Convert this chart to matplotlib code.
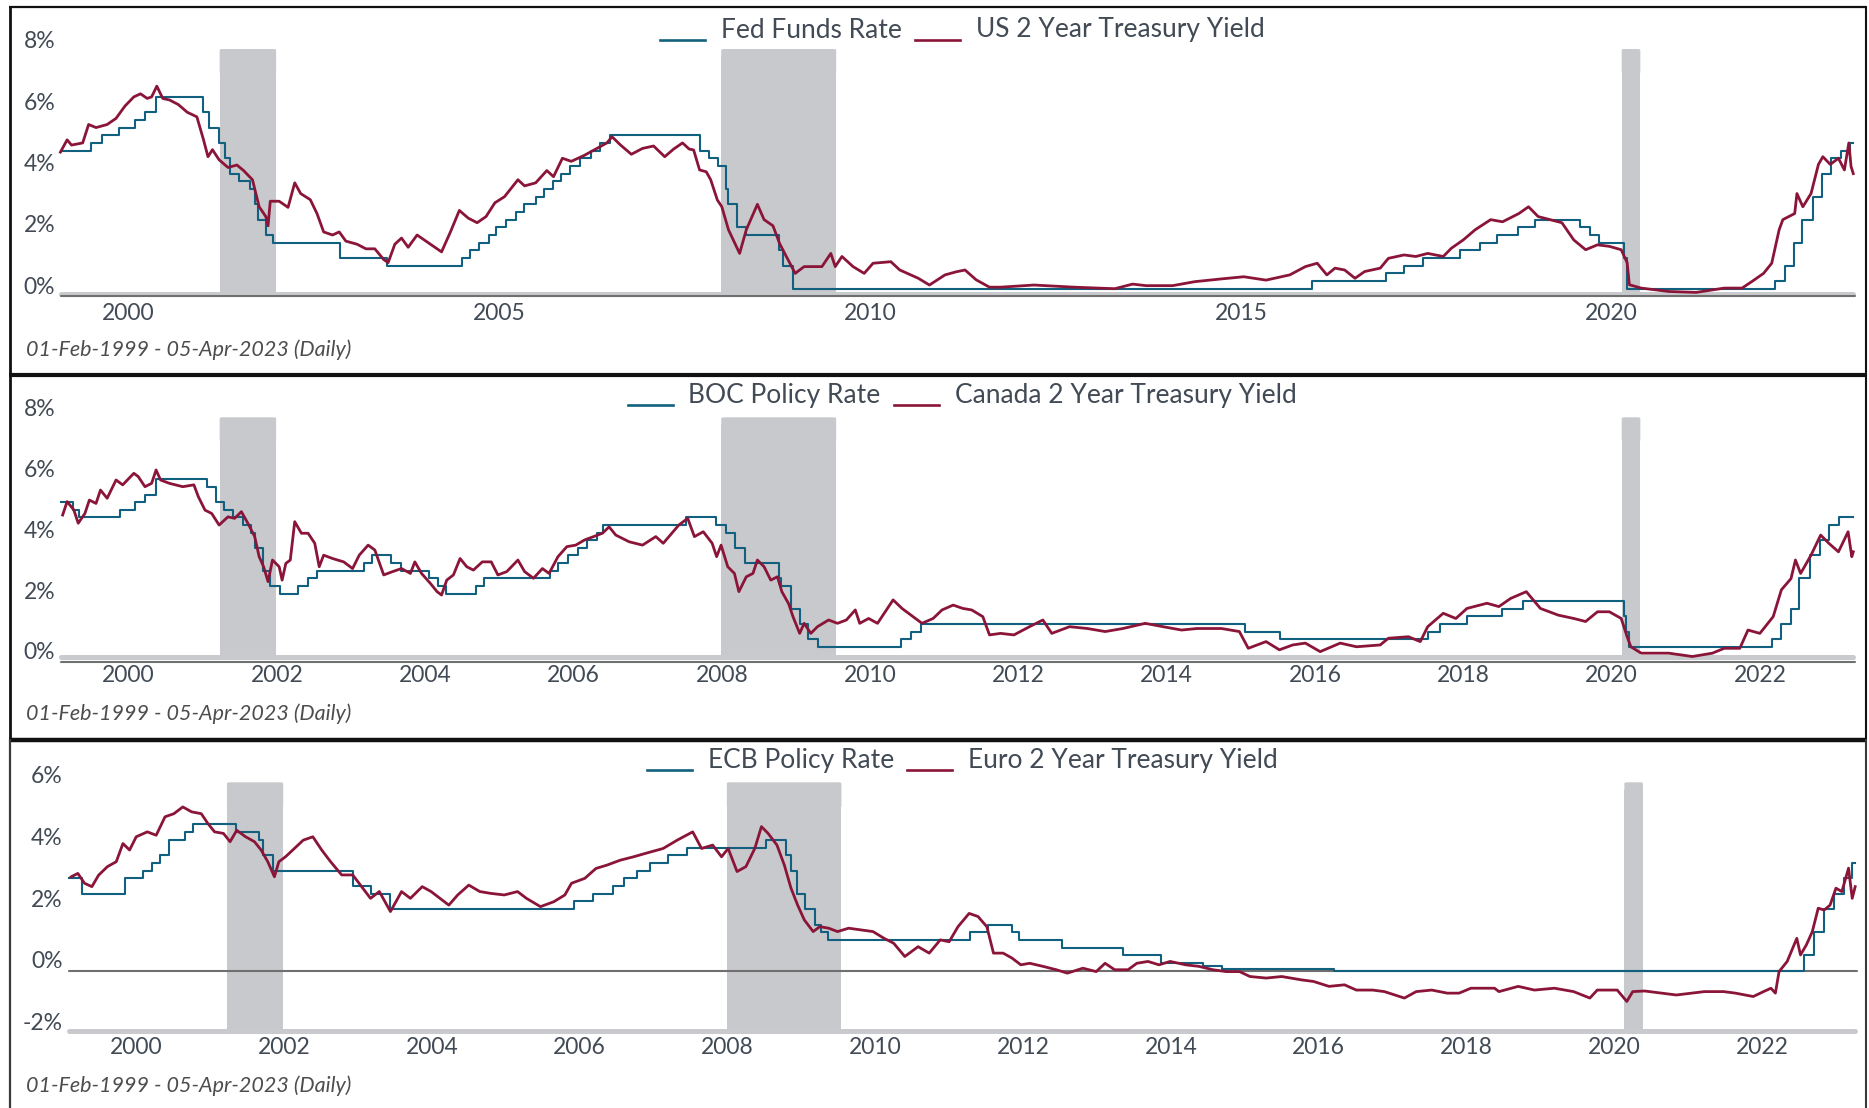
import matplotlib
matplotlib.use("Agg")
import matplotlib.pyplot as plt
from matplotlib.lines import Line2D
from matplotlib.patches import FancyBboxPatch
from matplotlib.transforms import ScaledTranslation, blended_transform_factory
from datetime import date

W, H, DPI = 1869, 1108, 100

FONT = "Lato"
TEXT = "#414a55"
CAPTION = "#4d4d4d"
BLUE = "#12607f"
RED = "#8a1538"
REC = "#c8c9cc"
AXBAR = "#c9cacd"
ZERO = "#6f6f6f"

START, END = "1999-02-01", "2023-04-05"
CAPTION_TEXT = "01-Feb-1999 - 05-Apr-2023 (Daily)"

recessions = [("2001-03-25", "2001-12-28"),
              ("2007-12-29", "2009-07-18"),
              ("2020-02-20", "2020-05-22")]

# ---------------- policy rates (change dates and new levels) ----------------
fed_dates = ["1999-02-01", "1999-06-30", "1999-08-24", "1999-11-16", "2000-02-02",
             "2000-03-21", "2000-05-16", "2001-01-03", "2001-01-31", "2001-03-20",
             "2001-04-18", "2001-05-15", "2001-06-27", "2001-08-21", "2001-09-17",
             "2001-10-02", "2001-11-06", "2001-12-11", "2002-11-06", "2003-06-25",
             "2004-06-30", "2004-08-10", "2004-09-21", "2004-11-10", "2004-12-14",
             "2005-02-02", "2005-03-22", "2005-05-03", "2005-06-30", "2005-08-09",
             "2005-09-20", "2005-11-01", "2005-12-13", "2006-01-31", "2006-03-28",
             "2006-05-10", "2006-06-29", "2007-09-18", "2007-10-31", "2007-12-11",
             "2008-01-22", "2008-01-30", "2008-03-18", "2008-04-30", "2008-10-08",
             "2008-10-29", "2008-12-16", "2015-12-17", "2016-12-15", "2017-03-16",
             "2017-06-15", "2017-12-14", "2018-03-22", "2018-06-14", "2018-09-27",
             "2018-12-20", "2019-08-01", "2019-09-19", "2019-10-31", "2020-03-04",
             "2020-03-16", "2022-03-17", "2022-05-05", "2022-06-16", "2022-07-28",
             "2022-09-22", "2022-11-03", "2022-12-15", "2023-02-02", "2023-03-23"]
fed_rates = [4.75, 5.00, 5.25, 5.50, 5.75, 6.00, 6.50, 6.00, 5.50, 5.00,
             4.50, 4.00, 3.75, 3.50, 3.00, 2.50, 2.00, 1.75, 1.25, 1.00,
             1.25, 1.50, 1.75, 2.00, 2.25, 2.50, 2.75, 3.00, 3.25, 3.50,
             3.75, 4.00, 4.25, 4.50, 4.75, 5.00, 5.25, 4.75, 4.50, 4.25,
             3.50, 3.00, 2.25, 2.00, 1.50, 1.00, 0.25, 0.50, 0.75, 1.00,
             1.25, 1.50, 1.75, 2.00, 2.25, 2.50, 2.25, 2.00, 1.75, 1.25,
             0.25, 0.50, 1.00, 1.75, 2.50, 3.25, 4.00, 4.50, 4.75, 5.00]

boc_dates = ["1999-02-01", "1999-03-31", "1999-05-04", "1999-11-17", "2000-02-03",
             "2000-03-22", "2000-05-17", "2001-01-23", "2001-03-06", "2001-04-17",
             "2001-05-29", "2001-07-17", "2001-08-28", "2001-09-17", "2001-10-23",
             "2001-11-27", "2002-01-15", "2002-04-16", "2002-06-04", "2002-07-16",
             "2003-03-04", "2003-04-15", "2003-07-15", "2003-09-03", "2004-01-20",
             "2004-03-02", "2004-04-13", "2004-09-08", "2004-10-19", "2005-09-07",
             "2005-10-18", "2005-12-06", "2006-01-24", "2006-03-07", "2006-04-25",
             "2006-05-24", "2007-07-10", "2007-12-04", "2008-01-22", "2008-03-04",
             "2008-04-22", "2008-10-08", "2008-10-21", "2008-12-09", "2009-01-20",
             "2009-03-03", "2009-04-21", "2010-06-01", "2010-07-20", "2010-09-08",
             "2015-01-21", "2015-07-15", "2017-07-12", "2017-09-06", "2018-01-17",
             "2018-07-11", "2018-10-24", "2020-03-04", "2020-03-13", "2020-03-27",
             "2022-03-02", "2022-04-13", "2022-06-01", "2022-07-13", "2022-09-07",
             "2022-10-26", "2022-12-07", "2023-01-25"]
boc_rates = [5.25, 5.00, 4.75, 5.00, 5.25, 5.50, 6.00, 5.75, 5.25, 5.00,
             4.75, 4.50, 4.25, 3.75, 3.00, 2.50, 2.25, 2.50, 2.75, 3.00,
             3.25, 3.50, 3.25, 3.00, 2.75, 2.50, 2.25, 2.50, 2.75, 3.00,
             3.25, 3.50, 3.75, 4.00, 4.25, 4.50, 4.75, 4.50, 4.25, 3.75,
             3.25, 2.75, 2.50, 1.75, 1.25, 0.75, 0.50, 0.75, 1.00, 1.25,
             1.00, 0.75, 1.00, 1.25, 1.50, 1.75, 2.00, 1.50, 1.00, 0.50,
             0.75, 1.25, 1.75, 2.75, 3.50, 4.00, 4.50, 4.75]

ecb_dates = ["1999-02-01", "1999-04-09", "1999-11-05", "2000-02-04", "2000-03-17",
             "2000-04-28", "2000-06-09", "2000-09-01", "2000-10-06", "2001-05-11",
             "2001-08-31", "2001-09-18", "2001-11-09", "2002-12-06", "2003-03-07",
             "2003-06-06", "2005-12-06", "2006-03-08", "2006-06-15", "2006-08-09",
             "2006-10-11", "2006-12-13", "2007-03-14", "2007-06-13", "2008-07-09",
             "2008-10-15", "2008-11-12", "2008-12-10", "2009-01-21", "2009-03-11",
             "2009-04-08", "2009-05-13", "2011-04-13", "2011-07-13", "2011-11-09",
             "2011-12-14", "2012-07-11", "2013-05-08", "2013-11-13", "2014-06-11",
             "2014-09-10", "2016-03-16", "2022-07-27", "2022-09-14", "2022-11-02",
             "2022-12-21", "2023-02-08", "2023-03-22"]
ecb_rates = [3.00, 2.50, 3.00, 3.25, 3.50, 3.75, 4.25, 4.50, 4.75, 4.50,
             4.25, 3.75, 3.25, 2.75, 2.50, 2.00, 2.25, 2.50, 2.75, 3.00,
             3.25, 3.50, 3.75, 4.00, 4.25, 3.75, 3.25, 2.50, 2.00, 1.50,
             1.25, 1.00, 1.25, 1.50, 1.25, 1.00, 0.75, 0.50, 0.25, 0.15,
             0.05, 0.00, 0.50, 1.25, 2.00, 2.50, 3.00, 3.50]

# ---------------- 2-year yields (decimal year, %) ----------------
us2y_t = [1999.08, 1999.17, 1999.23, 1999.38, 1999.46, 1999.56, 1999.71, 1999.83, 1999.95,
          2000.07, 2000.16, 2000.25, 2000.31, 2000.38, 2000.46, 2000.55, 2000.67, 2000.79, 2000.92,
          2001.01, 2001.07, 2001.13, 2001.22, 2001.34, 2001.46, 2001.55, 2001.67, 2001.76, 2001.85,
          2001.88, 2001.91, 2002.03, 2002.15, 2002.24, 2002.32, 2002.45, 2002.54, 2002.63, 2002.75,
          2002.84, 2002.93, 2003.08, 2003.20, 2003.32, 2003.44, 2003.50, 2003.59, 2003.68, 2003.77,
          2003.89, 2003.98, 2004.07, 2004.22, 2004.34, 2004.46, 2004.58, 2004.70, 2004.82, 2004.94,
          2005.07, 2005.25, 2005.34, 2005.49, 2005.64, 2005.73, 2005.85, 2005.97, 2006.15, 2006.30,
          2006.45, 2006.52, 2006.63, 2006.78, 2006.93, 2007.08, 2007.23, 2007.35, 2007.47, 2007.56,
          2007.62, 2007.70, 2007.79, 2007.85, 2007.94, 2008.00, 2008.09, 2008.24, 2008.33, 2008.48,
          2008.57, 2008.69, 2008.78, 2008.87, 2008.99, 2009.11, 2009.23, 2009.35, 2009.47, 2009.53,
          2009.62, 2009.77, 2009.92, 2010.04, 2010.28, 2010.40, 2010.65, 2010.80, 2011.01, 2011.16,
          2011.28, 2011.43, 2011.61, 2011.76, 2012.21, 2012.75, 2013.30, 2013.54, 2013.72, 2014.08,
          2014.38, 2014.74, 2015.04, 2015.34, 2015.66, 2015.87, 2016.03, 2016.16, 2016.27, 2016.40,
          2016.54, 2016.67, 2016.88, 2016.99, 2017.20, 2017.36, 2017.52, 2017.73, 2017.84, 2018.00,
          2018.16, 2018.37, 2018.53, 2018.75, 2018.88, 2019.01, 2019.17, 2019.33, 2019.49, 2019.65,
          2019.81, 2019.97, 2020.13, 2020.21, 2020.24, 2020.40, 2020.77, 2021.14, 2021.52, 2021.76,
          2021.89, 2022.05, 2022.16, 2022.26, 2022.31, 2022.47, 2022.50, 2022.58, 2022.69, 2022.79,
          2022.85, 2022.95, 2023.06, 2023.14, 2023.20, 2023.23, 2023.26]
us2y_v = [4.70, 5.10, 4.93, 5.00, 5.60, 5.50, 5.60, 5.80, 6.20,
          6.50, 6.60, 6.45, 6.50, 6.85, 6.45, 6.40, 6.25, 6.00, 5.85,
          5.10, 4.55, 4.78, 4.45, 4.20, 4.28, 4.10, 3.80, 2.92, 2.60,
          2.30, 3.10, 3.10, 2.90, 3.70, 3.35, 3.15, 2.70, 2.10, 2.00,
          2.10, 1.80, 1.70, 1.55, 1.55, 1.20, 1.10, 1.70, 1.90, 1.60,
          2.00, 1.85, 1.70, 1.45, 2.10, 2.80, 2.55, 2.40, 2.60, 3.05,
          3.25, 3.80, 3.60, 3.70, 4.10, 3.90, 4.50, 4.40, 4.60, 4.80,
          5.00, 5.20, 4.94, 4.63, 4.82, 4.90, 4.55, 4.80, 5.00, 4.80,
          4.77, 4.12, 4.06, 3.80, 3.14, 2.92, 2.17, 1.40, 2.17, 3.00,
          2.50, 2.30, 1.72, 1.30, 0.75, 0.97, 0.97, 0.97, 1.40, 0.97,
          1.30, 0.97, 0.75, 1.08, 1.13, 0.86, 0.59, 0.37, 0.70, 0.80,
          0.86, 0.54, 0.30, 0.30, 0.37, 0.30, 0.25, 0.40, 0.35, 0.35,
          0.48, 0.57, 0.64, 0.53, 0.70, 0.97, 1.08, 0.70, 0.92, 0.86,
          0.59, 0.81, 0.92, 1.24, 1.35, 1.30, 1.40, 1.30, 1.57, 1.84,
          2.17, 2.50, 2.43, 2.70, 2.92, 2.60, 2.50, 2.40, 1.84, 1.52,
          1.68, 1.63, 1.52, 1.10, 0.38, 0.27, 0.16, 0.13, 0.27, 0.27,
          0.48, 0.75, 1.08, 2.17, 2.50, 2.70, 3.35, 2.92, 3.35, 4.30,
          4.55, 4.30, 4.50, 4.12, 5.00, 4.23, 4.00]

ca2y_t = [1999.11, 1999.17, 1999.26, 1999.32, 1999.41, 1999.47, 1999.56, 1999.62, 1999.71,
          1999.83, 1999.92, 2000.07, 2000.13, 2000.22, 2000.31, 2000.37, 2000.43, 2000.55, 2000.73,
          2000.88, 2000.94, 2001.03, 2001.12, 2001.22, 2001.34, 2001.43, 2001.52, 2001.61, 2001.70,
          2001.76, 2001.82, 2001.88, 2001.94, 2002.03, 2002.07, 2002.12, 2002.18, 2002.24, 2002.33,
          2002.42, 2002.51, 2002.57, 2002.63, 2002.75, 2002.90, 2003.02, 2003.11, 2003.23, 2003.32,
          2003.44, 2003.56, 2003.68, 2003.80, 2003.86, 2003.95, 2004.07, 2004.16, 2004.22, 2004.29,
          2004.38, 2004.47, 2004.56, 2004.65, 2004.77, 2004.89, 2004.98, 2005.10, 2005.25, 2005.34,
          2005.46, 2005.58, 2005.67, 2005.79, 2005.91, 2006.03, 2006.15, 2006.27, 2006.39, 2006.48,
          2006.57, 2006.75, 2006.93, 2007.11, 2007.21, 2007.42, 2007.54, 2007.63, 2007.75, 2007.87,
          2007.93, 2007.99, 2008.08, 2008.17, 2008.23, 2008.33, 2008.42, 2008.48, 2008.57, 2008.66,
          2008.75, 2008.81, 2008.90, 2008.96, 2009.05, 2009.11, 2009.20, 2009.29, 2009.44, 2009.56,
          2009.68, 2009.80, 2009.86, 2009.98, 2010.10, 2010.31, 2010.43, 2010.58, 2010.70, 2010.85,
          2010.97, 2011.12, 2011.25, 2011.37, 2011.52, 2011.61, 2011.76, 2011.94, 2012.15, 2012.33,
          2012.45, 2012.69, 2012.93, 2013.17, 2013.41, 2013.71, 2013.95, 2014.20, 2014.41, 2014.74,
          2014.98, 2015.10, 2015.34, 2015.52, 2015.70, 2015.87, 2016.07, 2016.34, 2016.56, 2016.88,
          2016.99, 2017.26, 2017.42, 2017.52, 2017.73, 2017.90, 2018.05, 2018.32, 2018.48, 2018.64,
          2018.85, 2019.04, 2019.28, 2019.49, 2019.65, 2019.81, 2019.97, 2020.13, 2020.21, 2020.26,
          2020.40, 2020.77, 2021.09, 2021.36, 2021.52, 2021.73, 2021.84, 2022.00, 2022.18, 2022.29,
          2022.42, 2022.48, 2022.55, 2022.69, 2022.82, 2022.93, 2023.06, 2023.19, 2023.24, 2023.26]
ca2y_v = [4.83, 5.27, 5.00, 4.56, 4.88, 5.32, 5.21, 5.65, 5.38,
          5.98, 5.82, 6.20, 6.09, 5.76, 5.87, 6.31, 5.98, 5.87, 5.76,
          5.82, 5.43, 4.99, 4.88, 4.50, 4.77, 4.72, 4.94, 4.55, 4.12,
          3.46, 3.13, 2.64, 3.35, 3.13, 2.69, 3.24, 3.35, 4.61, 4.23,
          4.23, 3.90, 3.13, 3.51, 3.40, 3.29, 3.07, 3.51, 3.84, 3.68,
          2.86, 2.97, 3.07, 2.91, 3.29, 2.91, 2.58, 2.31, 2.20, 2.69,
          2.86, 3.40, 3.13, 3.02, 3.29, 3.29, 2.86, 2.97, 3.35, 2.97,
          2.75, 3.07, 2.91, 3.46, 3.79, 3.84, 4.01, 4.12, 4.23, 4.44,
          4.17, 3.95, 3.84, 4.12, 3.90, 4.50, 4.72, 4.12, 4.28, 3.90,
          3.46, 3.84, 3.13, 2.91, 2.31, 2.80, 2.91, 3.35, 3.13, 2.69,
          2.80, 2.31, 1.92, 1.49, 0.94, 1.27, 0.94, 1.16, 1.38, 1.27,
          1.38, 1.71, 1.27, 1.43, 1.27, 2.04, 1.76, 1.49, 1.27, 1.43,
          1.71, 1.87, 1.76, 1.71, 1.49, 0.89, 0.94, 0.89, 1.16, 1.38,
          0.94, 1.16, 1.10, 1.00, 1.10, 1.27, 1.16, 1.05, 1.10, 1.10,
          1.00, 0.45, 0.67, 0.40, 0.56, 0.62, 0.34, 0.62, 0.50, 0.56,
          0.78, 0.83, 0.67, 1.16, 1.60, 1.43, 1.76, 1.93, 1.82, 2.09,
          2.31, 1.76, 1.54, 1.43, 1.33, 1.65, 1.65, 1.43, 0.83, 0.50,
          0.29, 0.29, 0.18, 0.29, 0.45, 0.45, 1.05, 0.94, 1.49, 2.37,
          2.74, 3.35, 2.91, 3.51, 4.17, 3.90, 3.62, 4.28, 3.46, 3.62]

eu2y_t = [1999.12, 1999.21, 1999.30, 1999.40, 1999.49, 1999.61, 1999.73, 1999.82, 1999.91,
          2000.00, 2000.15, 2000.27, 2000.39, 2000.51, 2000.63, 2000.75, 2000.88, 2000.97, 2001.06,
          2001.18, 2001.27, 2001.36, 2001.48, 2001.60, 2001.69, 2001.78, 2001.87, 2001.93, 2002.02,
          2002.14, 2002.26, 2002.39, 2002.51, 2002.63, 2002.78, 2002.93, 2003.05, 2003.17, 2003.29,
          2003.44, 2003.59, 2003.71, 2003.87, 2003.99, 2004.11, 2004.23, 2004.35, 2004.50, 2004.65,
          2004.80, 2004.98, 2005.16, 2005.28, 2005.47, 2005.65, 2005.80, 2005.89, 2006.07, 2006.22,
          2006.37, 2006.55, 2006.73, 2006.89, 2007.13, 2007.32, 2007.53, 2007.65, 2007.80, 2007.92,
          2008.01, 2008.13, 2008.25, 2008.37, 2008.46, 2008.55, 2008.67, 2008.77, 2008.86, 2008.95,
          2009.04, 2009.16, 2009.25, 2009.37, 2009.49, 2009.64, 2009.79, 2009.97, 2010.12, 2010.25,
          2010.40, 2010.58, 2010.73, 2010.88, 2011.00, 2011.12, 2011.27, 2011.39, 2011.51, 2011.60,
          2011.73, 2011.85, 2011.97, 2012.09, 2012.27, 2012.45, 2012.60, 2012.81, 2012.99, 2013.11,
          2013.24, 2013.42, 2013.54, 2013.69, 2013.84, 2013.99, 2014.20, 2014.38, 2014.57, 2014.75,
          2014.93, 2015.07, 2015.29, 2015.50, 2015.77, 2015.93, 2016.14, 2016.35, 2016.51, 2016.73,
          2016.89, 2017.16, 2017.32, 2017.53, 2017.74, 2017.90, 2018.06, 2018.38, 2018.44, 2018.70,
          2018.92, 2019.19, 2019.45, 2019.67, 2019.77, 2020.04, 2020.17, 2020.25, 2020.41, 2020.84,
          2021.22, 2021.48, 2021.64, 2021.88, 2022.02, 2022.12, 2022.18, 2022.23, 2022.34, 2022.47,
          2022.52, 2022.60, 2022.68, 2022.76, 2022.84, 2022.92, 2023.00, 2023.08, 2023.17, 2023.22,
          2023.26]
eu2y_v = [3.05, 3.16, 2.84, 2.73, 3.10, 3.38, 3.54, 4.13, 3.92,
          4.35, 4.51, 4.40, 5.00, 5.10, 5.32, 5.16, 5.10, 4.78, 4.51,
          4.46, 4.19, 4.56, 4.35, 4.19, 3.92, 3.54, 3.05, 3.54, 3.70,
          3.97, 4.24, 4.35, 3.92, 3.54, 3.11, 3.11, 2.73, 2.35, 2.57,
          1.92, 2.57, 2.35, 2.73, 2.57, 2.35, 2.13, 2.46, 2.78, 2.57,
          2.51, 2.46, 2.57, 2.35, 2.08, 2.24, 2.46, 2.84, 3.00, 3.32,
          3.43, 3.59, 3.70, 3.81, 3.97, 4.24, 4.51, 3.97, 4.08, 3.70,
          3.97, 3.22, 3.38, 3.97, 4.68, 4.46, 4.08, 3.43, 2.68, 2.13,
          1.65, 1.27, 1.43, 1.38, 1.27, 1.38, 1.33, 1.27, 1.05, 0.89,
          0.46, 0.78, 0.57, 1.00, 0.94, 1.43, 1.86, 1.76, 1.43, 0.57,
          0.57, 0.41, 0.19, 0.24, 0.14, 0.03, -0.08, 0.08, -0.03, 0.24,
          0.03, 0.03, 0.24, 0.30, 0.19, 0.30, 0.19, 0.14, 0.03, -0.03,
          -0.03, -0.19, -0.24, -0.19, -0.30, -0.35, -0.51, -0.46, -0.63, -0.63,
          -0.68, -0.89, -0.68, -0.63, -0.73, -0.73, -0.57, -0.57, -0.68, -0.51,
          -0.63, -0.57, -0.68, -0.89, -0.63, -0.63, -1.00, -0.68, -0.66, -0.79,
          -0.68, -0.68, -0.73, -0.84, -0.68, -0.57, -0.73, -0.03, 0.30, 1.05,
          0.51, 0.84, 1.27, 2.03, 1.97, 2.13, 2.68, 2.57, 3.33, 2.35,
          2.73]


def dyear(s):
    d = date.fromisoformat(s)
    y0, y1 = date(d.year, 1, 1), date(d.year + 1, 1, 1)
    return d.year + (d - y0).days / (y1 - y0).days


def fx(x):
    return x / W


def fy(y):
    return 1 - y / H


X0, X1 = dyear(START), dyear(END)

panels = [
    dict(policy=(fed_dates, fed_rates), yld=(us2y_t, us2y_v),
         labels=("Fed Funds Rate", "US 2 Year Treasury Yield"),
         left=60.8, right=1853.1, top=49.0, bottom=293.5, ylim=(0.094, 8.06),
         yticks=[0, 2, 4, 6, 8], years=[2000, 2005, 2010, 2015, 2020],
         legend_y=37.5, xlab_base=320.5, cap_base=355.5, ypad=5.5),
    dict(policy=(boc_dates, boc_rates), yld=(ca2y_t, ca2y_v),
         labels=("BOC Policy Rate", "Canada 2 Year Treasury Yield"),
         left=60.8, right=1853.1, top=417.3, bottom=657.3, ylim=(0.154, 8.04),
         yticks=[0, 2, 4, 6, 8], years=list(range(2000, 2023, 2)),
         legend_y=403.0, xlab_base=681.5, cap_base=720.5, ypad=5.5),
    dict(policy=(ecb_dates, ecb_rates), yld=(eu2y_t, eu2y_v),
         labels=("ECB Policy Rate", "Euro 2 Year Treasury Yield"),
         left=68.6, right=1855.0, top=782.3, bottom=1031.0, ylim=(-1.96, 6.12),
         yticks=[-2, 0, 2, 4, 6], years=list(range(2000, 2023, 2)),
         legend_y=768.0, xlab_base=1054.0, cap_base=1092.5, ypad=6.0),
]

plt.rcParams["font.family"] = [FONT, "DejaVu Sans"]
fig = plt.figure(figsize=(W / DPI, H / DPI), dpi=DPI, facecolor="white")
renderer = fig.canvas.get_renderer()


def draw_legend(items, cx, ybase):
    """Row of short-line handles sitting on the text baseline."""
    hw, gap, sep = 45, 16, 13
    texts = []
    total = 0
    for label, color in items:
        t = fig.text(0, fy(ybase), label, fontsize=19, color=TEXT,
                     ha="left", va="baseline")
        w = t.get_window_extent(renderer).width
        texts.append((t, w, color))
        total += hw + gap + w
    total += sep * (len(items) - 1)
    x = cx - total / 2
    for t, w, color in texts:
        fig.add_artist(Line2D([fx(x), fx(x + hw)], [fy(ybase + 2), fy(ybase + 2)],
                              transform=fig.transFigure, color=color, lw=1.9))
        t.set_x(fx(x + hw + gap))
        x += hw + gap + w + sep


for p in panels:
    ax = fig.add_axes([fx(p["left"]), fy(p["bottom"]),
                       (p["right"] - p["left"]) / W, (p["bottom"] - p["top"]) / H])
    ax.set_xlim(X0, X1)
    ax.set_ylim(*p["ylim"])
    ax.set_axis_off()

    # recession shading with slightly rounded tops
    for s, e in recessions:
        xs, xe = dyear(s), dyear(e)
        ax.axvspan(xs, xe, ymin=0, ymax=0.97, color=REC, lw=0, zorder=0.5)
        ax.add_patch(FancyBboxPatch((xs, 0.9), xe - xs, 0.1,
                                    boxstyle="round,pad=0,rounding_size=0.04",
                                    mutation_aspect=1 / 0.3 * (p["ylim"][1] - p["ylim"][0]) / 30 / 8,
                                    transform=blended_transform_factory(ax.transData, ax.transAxes),
                                    facecolor=REC, edgecolor="none", zorder=0.5))

    lo = p["ylim"][0]
    ax.plot([X0, X1], [lo, lo], color=AXBAR, lw=3.6, solid_capstyle="round",
            clip_on=False, zorder=1.0)
    ax.plot([X0, X1 + 0.03], [0, 0], color=ZERO, lw=1.5, solid_capstyle="round",
            clip_on=False, zorder=1.2)

    dates, rates = p["policy"]
    px = [dyear(d) for d in dates] + [X1]
    py = list(rates) + [rates[-1]]
    ax.step(px, py, where="post", color=BLUE, lw=1.5, zorder=3, clip_on=False)

    yt, yv = p["yld"]
    ax.plot(yt, yv, color=RED, lw=2.0, zorder=4, solid_joinstyle="round", clip_on=False)

    # y labels sit just above their value
    ylab_tr = blended_transform_factory(ax.transAxes, ax.transData) + \
        ScaledTranslation(-p["ypad"] / DPI, 2.5 / DPI, fig.dpi_scale_trans)
    for v in p["yticks"]:
        ax.text(0, v, f"{v}%", transform=ylab_tr, ha="right", va="baseline",
                fontsize=16.5, color=TEXT, clip_on=False)

    # year labels
    xlab_tr = blended_transform_factory(ax.transData, fig.transFigure)
    for yr in p["years"]:
        ax.text(float(yr), fy(p["xlab_base"]), str(yr), transform=xlab_tr,
                ha="center", va="baseline", fontsize=16.5, color=TEXT, clip_on=False)

    fig.text(fx(26), fy(p["cap_base"]), CAPTION_TEXT, fontsize=15.5, style="italic",
             color=CAPTION, ha="left", va="baseline")

    draw_legend([(p["labels"][0], BLUE), (p["labels"][1], RED)], 962, p["legend_y"])


# panel frames
def hline(y, x0, x1, lw, color="#111111"):
    fig.add_artist(Line2D([fx(x0), fx(x1)], [fy(y), fy(y)], transform=fig.transFigure,
                          color=color, lw=lw, solid_capstyle="butt"))


def vline(x, y0, y1, lw, color="#111111"):
    fig.add_artist(Line2D([fx(x), fx(x)], [fy(y0), fy(y1)], transform=fig.transFigure,
                          color=color, lw=lw, solid_capstyle="butt"))


hline(7.0, 9, 1866, 1.6)
hline(375.5, 9, 1866, 3.0)
hline(740.0, 9, 1866, 3.2)
vline(10.0, 6, 376, 2.0)
vline(10.0, 375, 740, 2.0)
vline(10.0, 739, 1108, 1.6, "#3a3a3a")
vline(1865.5, 6, 376, 1.5)
vline(1865.5, 375, 740, 1.5)
vline(1865.5, 739, 1108, 1.5, "#3a3a3a")

fig.savefig("out.png", dpi=DPI, facecolor="white")
